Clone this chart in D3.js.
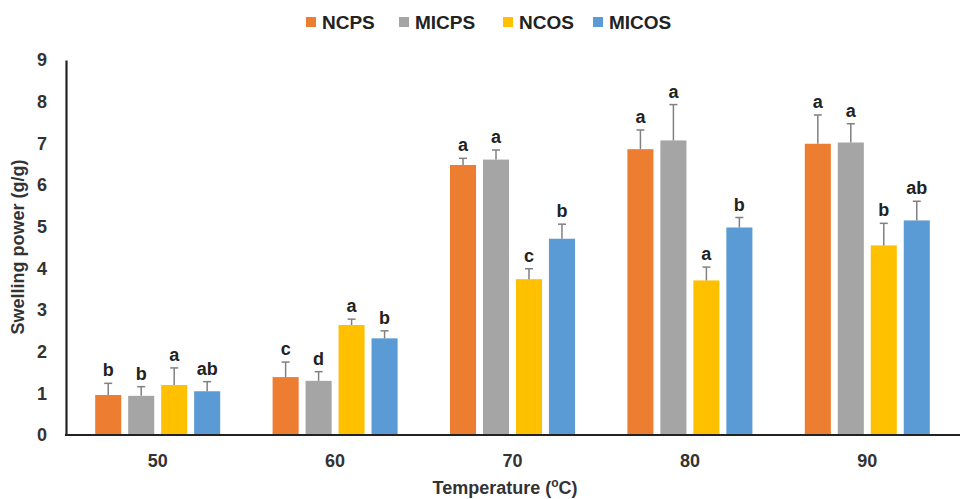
<!DOCTYPE html>
<html>
<head>
<meta charset="utf-8">
<script src="https://cdn.jsdelivr.net/npm/d3@7"></script>
<style>
  body { margin: 0; background: #fff; }
  svg { display: block; font-family: "Liberation Sans", Arial, sans-serif; }
</style>
</head>
<body>
<div id="chart"></div>
<script>
// Data
const temps = ["50", "60", "70", "80", "90"];
const series = ["NCPS", "MICPS", "NCOS", "MICOS"];
const colors = ["#ED7D31", "#A5A5A5", "#FFC000", "#5B9BD5"];

const NCPS  = [0.96, 1.39, 6.48, 6.86, 6.99];
const MICPS = [0.94, 1.30, 6.61, 7.07, 7.02];
const NCOS  = [1.20, 2.64, 3.74, 3.71, 4.55];
const MICOS = [1.05, 2.32, 4.71, 4.98, 5.15];

// standard deviations (upper error bar)
const NCPS_sd  = [0.28, 0.36, 0.16, 0.46, 0.69];
const MICPS_sd = [0.22, 0.22, 0.23, 0.86, 0.45];
const NCOS_sd  = [0.41, 0.14, 0.25, 0.32, 0.53];
const MICOS_sd = [0.23, 0.18, 0.35, 0.24, 0.46];

// significance letters
const NCPS_sig  = ["b", "c", "a", "a", "a"];
const MICPS_sig = ["b", "d", "a", "a", "a"];
const NCOS_sig  = ["a", "a", "c", "a", "b"];
const MICOS_sig = ["ab", "b", "b", "b", "ab"];

const yTicks = [0, 1, 2, 3, 4, 5, 6, 7, 8, 9];

const values = [NCPS, MICPS, NCOS, MICOS];
const sds = [NCPS_sd, MICPS_sd, NCOS_sd, MICOS_sd];
const sigs = [NCPS_sig, MICPS_sig, NCOS_sig, MICOS_sig];

const rows = [];
temps.forEach((t, i) => {
    series.forEach((s, j) => {
        rows.push({ temp: t, key: s, value: values[j][i], sd: sds[j][i], sig: sigs[j][i], color: colors[j] });
    });
});

const width = 960, height = 499;
const svg = d3.select("#chart").append("svg")
    .attr("width", width)
    .attr("height", height);

// scales
const x0 = d3.scaleBand().domain(temps).range([69, 956]).padding(0);
const x1 = d3.scaleBand().domain(series).range([-62.5, 62.5]).paddingInner(0.21).paddingOuter(0);
const y = d3.scaleLinear().domain([0, 9]).range([435, 60]);

// y axis
const yAxis = svg.append("g")
    .attr("transform", "translate(66,0)")
    .call(d3.axisLeft(y).tickValues(yTicks).tickSize(0).tickPadding(19).tickFormat(d3.format("d")));
yAxis.select(".domain").attr("stroke", "#222").attr("stroke-width", 2.2);
yAxis.selectAll("text")
    .attr("font-size", 18)
    .attr("font-weight", "bold")
    .attr("fill", "#333")
    .attr("font-family", "Liberation Sans, Arial, sans-serif");

// bars
const groups = svg.selectAll("g.grp")
    .data(temps)
    .enter()
    .append("g")
    .attr("class", "grp")
    .attr("transform", d => `translate(${x0(d) + x0.bandwidth() / 2},0)`);

groups.selectAll("rect")
    .data(t => rows.filter(r => r.temp === t))
    .enter()
    .append("rect")
    .attr("x", d => x1(d.key))
    .attr("y", d => y(d.value))
    .attr("width", x1.bandwidth())
    .attr("height", d => y(0) - y(d.value))
    .attr("fill", d => d.color);

// error bars
groups.selectAll("line.err")
    .data(t => rows.filter(r => r.temp === t))
    .enter()
    .append("line")
    .attr("class", "err")
    .attr("x1", d => x1(d.key) + x1.bandwidth() / 2)
    .attr("x2", d => x1(d.key) + x1.bandwidth() / 2)
    .attr("y1", d => y(d.value))
    .attr("y2", d => y(d.value + d.sd))
    .attr("stroke", "#808080")
    .attr("stroke-width", 1.5);

groups.selectAll("line.cap")
    .data(t => rows.filter(r => r.temp === t))
    .enter()
    .append("line")
    .attr("class", "cap")
    .attr("x1", d => x1(d.key) + x1.bandwidth() / 2 - 4)
    .attr("x2", d => x1(d.key) + x1.bandwidth() / 2 + 4)
    .attr("y1", d => y(d.value + d.sd))
    .attr("y2", d => y(d.value + d.sd))
    .attr("stroke", "#808080")
    .attr("stroke-width", 1.5);

// letters
groups.selectAll("text.sig")
    .data(t => rows.filter(r => r.temp === t))
    .enter()
    .append("text")
    .attr("class", "sig")
    .attr("x", d => x1(d.key) + x1.bandwidth() / 2)
    .attr("y", d => y(d.value + d.sd) - 7)
    .attr("text-anchor", "middle")
    .attr("font-size", 18)
    .attr("font-weight", "bold")
    .attr("fill", "#222")
    .text(d => d.sig);

// x axis
const xAxis = svg.append("g")
    .attr("transform", "translate(0,435)")
    .call(d3.axisBottom(x0).tickSize(0).tickPadding(19).tickSizeOuter(0));
xAxis.select(".domain").attr("d", "M65,0H960").attr("stroke", "#222").attr("stroke-width", 2.2);
xAxis.selectAll("text")
    .attr("font-size", 18)
    .attr("font-weight", "bold")
    .attr("fill", "#333")
    .attr("font-family", "Liberation Sans, Arial, sans-serif");

// axis titles
const xt = svg.append("text")
    .attr("x", 505)
    .attr("y", 494)
    .attr("text-anchor", "middle")
    .attr("font-size", 18)
    .attr("font-weight", "bold")
    .attr("fill", "#333");
xt.append("tspan").text("Temperature (");
xt.append("tspan").attr("font-size", 12).attr("dy", -7).text("o");
xt.append("tspan").attr("dy", 7).text("C)");

svg.append("text")
    .attr("transform", "translate(24,247) rotate(-90)")
    .attr("text-anchor", "middle")
    .attr("font-size", 18)
    .attr("font-weight", "bold")
    .attr("fill", "#333")
    .text("Swelling power (g/g)");

// legend
const legendX = [306, 399, 503, 593];
const legend = svg.selectAll("g.leg")
    .data(series)
    .enter()
    .append("g")
    .attr("class", "leg")
    .attr("transform", (d, i) => `translate(${legendX[i]},17)`);
legend.append("rect")
    .attr("width", 10)
    .attr("height", 10)
    .attr("fill", (d, i) => colors[i]);
legend.append("text")
    .attr("x", 16)
    .attr("y", 12)
    .attr("font-size", 19)
    .attr("font-weight", "bold")
    .attr("fill", "#222")
    .text(d => d);
</script>
</body>
</html>
